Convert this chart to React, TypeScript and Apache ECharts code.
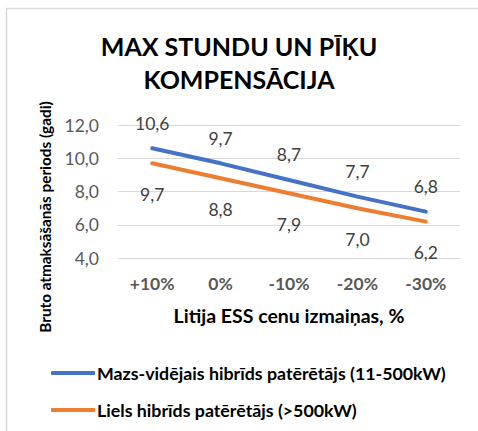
import React, { useEffect, useRef } from "react";
import * as echarts from "echarts";

const categories = ["+10%", "0%", "-10%", "-20%", "-30%"];
const seriesNames = [
  "Mazs-vidējais hibrīds patērētājs (11-500kW)",
  "Liels hibrīds patērētājs (>500kW)",
];
const smallMedium = [10.6, 9.7, 8.7, 7.7, 6.8];
const large = [9.7, 8.8, 7.9, 7.0, 6.2];
const titleText = "MAX STUNDU UN PĪĶU\nKOMPENSĀCIJA";
const xName = "Litija ESS cenu izmaiņas, %";
const yName = "Bruto atmaksāšanās periods (gadi)";

const FONT = "Lato";
const fmt = (v: number) => v.toFixed(1).replace(".", ",");

export default function App() {
  const ref = useRef<HTMLDivElement>(null);
  useEffect(() => {
    if (!ref.current) return;
    const chart = echarts.init(ref.current, null, { renderer: "svg" });
    chart.setOption({
      animation: false,
      backgroundColor: "#ffffff",
      textStyle: { fontFamily: FONT },
      title: {
        text: titleText,
        left: "center",
        top: 24,
        textStyle: {
          fontFamily: FONT,
          fontSize: 25,
          fontWeight: "bold",
          color: "#000000",
          lineHeight: 33,
        },
      },
      graphic: [
        {
          type: "rect",
          shape: { x: 6.5, y: 8.5, width: 520, height: 480 },
          style: { fill: "none", stroke: "#d9d9d9", lineWidth: 1.5 },
          silent: true,
        },
        {
          type: "text",
          x: 45,
          y: 217,
          rotation: Math.PI / 2,
          style: {
            text: yName,
            fontFamily: FONT,
            fontSize: 15.3,
            fontWeight: "bold",
            fill: "#000000",
            align: "center",
            verticalAlign: "middle",
          },
        },
      ],
      grid: { left: 118, right: 18, top: 125, bottom: 172.7 },
      legend: {
        orient: "vertical",
        left: 46,
        top: 358,
        itemWidth: 44,
        itemHeight: 4,
        itemGap: 17,
        icon: "roundRect",
        textStyle: {
          fontFamily: FONT,
          fontSize: 17.8,
          lineHeight: 20,
          fontWeight: "bold",
          color: "#000000",
          padding: [0, 0, 0, -3],
        },
        data: seriesNames,
      },
      xAxis: {
        type: "category",
        data: categories,
        boundaryGap: true,
        axisLine: { show: false },
        axisTick: { show: false },
        axisLabel: {
          margin: 16,
          fontFamily: FONT,
          fontSize: 17.5,
          fontWeight: "bold",
          color: "#595959",
        },
        name: xName,
        nameLocation: "middle",
        nameGap: 47,
        nameTextStyle: {
          fontFamily: FONT,
          fontSize: 19.5,
          fontWeight: "bold",
          color: "#000000",
        },
      },
      yAxis: {
        type: "value",
        min: 4,
        max: 12,
        interval: 2,
        axisLine: { show: false },
        axisTick: { show: false },
        splitLine: { lineStyle: { color: "#d9d9d9", width: 1 } },
        axisLabel: {
          margin: 19,
          fontFamily: FONT,
          fontSize: 17.5,
          color: "#595959",
          formatter: (v: number) => fmt(v),
        },
      },
      series: [
        {
          name: seriesNames[0],
          type: "line",
          data: smallMedium,
          showSymbol: true,
          symbol: "circle",
          symbolSize: 0.1,
          lineStyle: { color: "#4472C4", width: 4, cap: "round" },
          itemStyle: { color: "#4472C4" },
          label: {
            show: true,
            position: "top",
            distance: 16,
            fontFamily: FONT,
            fontSize: 17.5,
            color: "#404040",
            formatter: (p: any) => fmt(p.value),
          },
        },
        {
          name: seriesNames[1],
          type: "line",
          data: large,
          showSymbol: true,
          symbol: "circle",
          symbolSize: 0.1,
          lineStyle: { color: "#ED7D31", width: 4, cap: "round" },
          itemStyle: { color: "#ED7D31" },
          label: {
            show: true,
            position: "bottom",
            distance: 22,
            fontFamily: FONT,
            fontSize: 17.5,
            color: "#404040",
            formatter: (p: any) => fmt(p.value),
          },
        },
      ],
    });
    return () => chart.dispose();
  }, []);
  return (
    <div
      ref={ref}
      style={{ position: "fixed", left: 0, top: 0, width: 478, height: 431 }}
    />
  );
}
